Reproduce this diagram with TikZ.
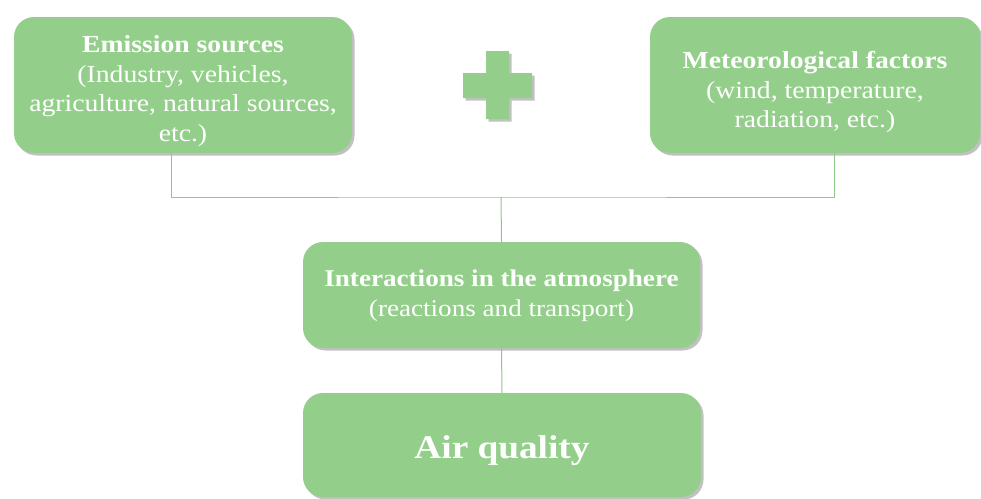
\documentclass[tikz,border=0pt]{standalone}
\usepackage{fontspec}
\setmainfont[FakeStretch=1.13]{Liberation Serif}
\usetikzlibrary{shadows}
\definecolor{boxgreen}{HTML}{93CF8A}
\definecolor{linegreen}{HTML}{8CC985}
\tikzset{
  gbox/.style={rectangle, rounded corners=20pt, fill=boxgreen, draw=none,
    inner sep=0pt,
    drop shadow={shadow xshift=2.5pt, shadow yshift=-2.5pt, opacity=0.35, fill=black!70}},
  lbl/.style={text=white, align=center, inner sep=0pt},
  txt/.style={font=\fontsize{24.5}{29.5}\selectfont},
  conn/.style={draw=linegreen, line width=1pt}
}
\begin{document}
\begin{tikzpicture}[x=1pt,y=-1pt]
\useasboundingbox (0,0) rectangle (981,498);
\node[gbox, minimum width=338pt, minimum height=136pt] (em) at (183,85) {};
\node[lbl, txt] (emt) at ([yshift=-6pt]em.center)
  {\textbf{Emission sources}\\(Industry, vehicles,\\agriculture, natural sources,\\etc.)};
\node[gbox, minimum width=330pt, minimum height=136pt] (me) at (815,85) {};
\node[lbl, txt] (met) at ([yshift=-7pt]me.center)
  {\textbf{Meteorological factors}\\(wind, temperature,\\radiation, etc.)};
\node[gbox, minimum width=397pt, minimum height=106pt] (in) at (501.5,295) {};
\node[lbl, font=\fontsize{24}{30}\selectfont] (int) at ([yshift=-1pt]in.center)
  {\textbf{Interactions in the atmosphere}\\(reactions and transport)};
\node[gbox, minimum width=398pt, minimum height=104pt] (aq) at (502,445) {};
\node[lbl, font=\fontsize{33}{40}\selectfont] (aqt) at ([yshift=-6pt]aq.center)
  {\textbf{Air quality}};
\fill[boxgreen, drop shadow={shadow xshift=2.5pt, shadow yshift=-2.5pt, opacity=0.35, fill=black!70}]
  (486,51) -- (509,51) -- (509,73) -- (532,73) -- (532,98) -- (509,98) -- (509,119)
  -- (486,119) -- (486,98) -- (463,98) -- (463,73) -- (486,73) -- cycle;
\coordinate (j) at (501,197);
\draw[conn] ([xshift=-12pt]em.south) |- (j) -| ([xshift=19pt]me.south);
\draw[conn] (j) -- (in.north);
\draw[conn] (in.south) -- (aq.north);
\end{tikzpicture}
\end{document}
